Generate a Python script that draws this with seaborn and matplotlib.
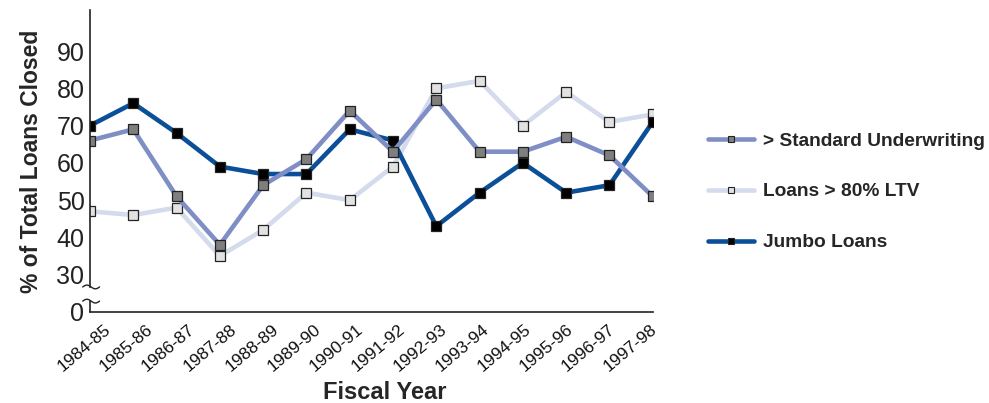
import numpy as np
import pandas as pd
import seaborn as sns
import matplotlib
matplotlib.use('Agg')
import matplotlib.pyplot as plt
import matplotlib.transforms as mtransforms
from matplotlib.lines import Line2D

# Data
years = ['1984-85', '1985-86', '1986-87', '1987-88', '1988-89', '1989-90', '1990-91',
         '1991-92', '1992-93', '1993-94', '1994-95', '1995-96', '1996-97', '1997-98']
standard = [66, 69, 51, 38, 54, 61, 74, 63, 77, 63, 63, 67, 62, 51]
ltv = [47, 46, 48, 35, 42, 52, 50, 59, 80, 82, 70, 79, 71, 73]
jumbo = [70, 76, 68, 59, 57, 57, 69, 66, 43, 52, 60, 52, 54, 71]
ytick_vals = [30, 40, 50, 60, 70, 80, 90]

sns.set_style('white')
plt.rcParams['font.family'] = ['Liberation Sans', 'DejaVu Sans']

df = pd.DataFrame({'pos': np.arange(len(years)), 'Standard': standard, 'LTV': ltv, 'Jumbo': jumbo})

fig = plt.figure(figsize=(9.89, 4.03), dpi=100)
ax = fig.add_axes([0.091, 0.226, 0.569, 0.749])

styles = [
    ('LTV', '#d4dbec', '#e2e2e2'),
    ('Jumbo', '#0b4f98', '#000000'),
    ('Standard', '#7f8fc6', '#7f7f7f'),
]
for col, lc, mc in styles:
    sns.lineplot(data=df, x='pos', y=col, ax=ax, color=lc, linewidth=3.3,
                 marker='s', markersize=6.5, markerfacecolor=mc,
                 markeredgecolor='#222222', markeredgewidth=0.9)

# broken axis: "0" sits at the 20 position
ax.set_ylim(20, 101)
ax.set_xlim(0, len(years) - 1)
ax.set_yticks([20] + ytick_vals)
ax.set_yticklabels(['0'] + [str(v) for v in ytick_vals], fontsize=18, color='#222222')

# x tick labels drawn as text, nudged right like the original
ax.set_xticks(df['pos'])
ax.set_xticklabels([])
shift = mtransforms.ScaledTranslation(14 / 100, -10 / 100, fig.dpi_scale_trans)
xtrans = ax.get_xaxis_transform() + shift
for p, lab in zip(df['pos'], years):
    ax.text(p - 0.03 * p, 0, lab, rotation=40, ha='right', va='top', rotation_mode='anchor',
            fontsize=12.5, color='#111111', transform=xtrans)

ax.set_xticks([len(years) - 1], minor=True)
ax.tick_params(axis='both', which='major', length=0, pad=4)
ax.tick_params(axis='x', which='minor', direction='in', length=6, width=1.2, color='#222222')

for s in ['top', 'right']:
    ax.spines[s].set_visible(False)
ax.spines['left'].set_bounds(26.7, 101)
ax.spines['left'].set_color('#222222')
ax.spines['bottom'].set_color('#222222')
ax.spines['left'].set_linewidth(1.2)
ax.spines['bottom'].set_linewidth(1.2)
ax.plot([0, 0], [20, 22.9], color='#222222', lw=1.2, clip_on=False)

# break squiggles
t = np.linspace(0, 1, 40)
sx = -0.013 + 0.03 * t
for yb in (26.7, 22.9):
    ax.plot(sx, yb + 0.5 * np.sin(2 * np.pi * t), color='#222222', lw=1,
            transform=ax.get_yaxis_transform(), clip_on=False)

ax.set_xlabel('Fiscal Year', fontsize=17, fontweight='bold')
ax.xaxis.set_label_coords(0.524, -0.228)
ax.set_ylabel('% of Total Loans Closed', fontsize=16.5, fontweight='bold', labelpad=10)

handles = [
    Line2D([], [], color='#7f8fc6', lw=3.3, marker='s', markersize=4.5,
           markerfacecolor='#7f7f7f', markeredgecolor='#222222', markeredgewidth=0.8),
    Line2D([], [], color='#d4dbec', lw=3.3, marker='s', markersize=4.5,
           markerfacecolor='#e2e2e2', markeredgecolor='#222222', markeredgewidth=0.8),
    Line2D([], [], color='#0b4f98', lw=3.3, marker='s', markersize=4.5,
           markerfacecolor='#000000', markeredgecolor='#222222', markeredgewidth=0.8),
]
labels = ['> Standard Underwriting', 'Loans > 80% LTV', 'Jumbo Loans']
fig.legend(handles, labels, loc='upper left', bbox_to_anchor=(0.698, 0.715), frameon=False,
           prop={'size': 13.8, 'weight': 'bold'}, handlelength=2.4, labelspacing=1.75,
           handletextpad=0.5)

fig.savefig('out.png', dpi=100)
